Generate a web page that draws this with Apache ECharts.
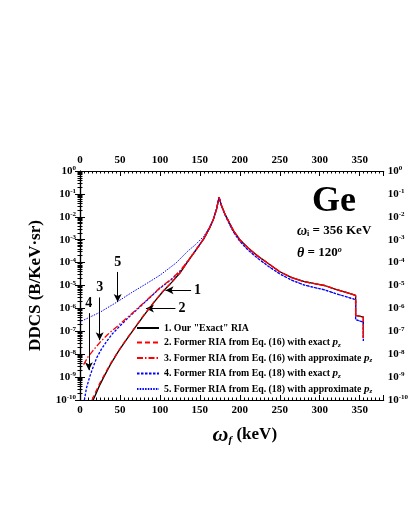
<!DOCTYPE html>
<html>
<head>
<meta charset="utf-8">
<script src="https://cdn.jsdelivr.net/npm/echarts@6/dist/echarts.min.js"></script>
<style>
  html, body { margin: 0; padding: 0; background: #fff; }
  #main { width: 411px; height: 532px; }
</style>
</head>
<body>
<div id="main"></div>
<script>
// series names
var names = [
  '1. Our "Exact" RIA',
  '2. Former RIA from Eq. (16) with exact p_z',
  '3. Former RIA from Eq. (16) with approximate p_z',
  '4. Former RIA from Eq. (18) with exact p_z',
  '5. Former RIA from Eq. (18) with approximate p_z'
]

// low-energy side (omega_f in keV, DDCS in b/keV/sr)
var x1 = [16.5, 20, 25, 30, 38, 48, 59, 70, 80, 92, 104, 115, 125, 135, 145, 155, 162, 167, 171]
var y1 = [1e-10, 1.9e-10, 4.7e-10, 1.05e-9, 3.5e-9, 1.32e-8, 4.8e-8, 1.66e-7, 5.0e-7, 1.74e-6, 5.6e-6, 1.41e-5, 3.5e-5, 1.12e-4, 3.5e-4, 1.12e-3, 3.2e-3, 7.9e-3, 0.0224]

var x2 = [15, 20, 25, 30, 38, 48, 59, 70, 80, 92, 104, 115, 125, 135, 145, 155, 162, 167, 171]
var y2 = [1e-10, 2.4e-10, 5.6e-10, 1.17e-9, 3.8e-9, 1.38e-8, 5.0e-8, 1.7e-7, 5.2e-7, 1.78e-6, 5.7e-6, 1.41e-5, 3.5e-5, 1.12e-4, 3.5e-4, 1.12e-3, 3.2e-3, 7.9e-3, 0.0224]

var x3 = [4.5, 10, 16, 25, 35, 45, 60, 80, 100, 115, 125, 135, 145, 155, 162, 167, 171]
var y3 = [3.5e-9, 7.6e-9, 1.41e-8, 3.3e-8, 7.4e-8, 1.48e-7, 4.2e-7, 1.78e-6, 7.9e-6, 2.0e-5, 4.3e-5, 1.2e-4, 3.6e-4, 1.12e-3, 3.2e-3, 7.9e-3, 0.0224]

var x4 = [5.5, 8, 12, 16, 21, 27, 33, 40, 49, 60, 80, 100, 115, 125, 135, 145, 155, 162, 167, 171]
var y4 = [1e-10, 3.2e-10, 1e-9, 2.5e-9, 7.1e-9, 1.7e-8, 3.5e-8, 7.4e-8, 1.58e-7, 3.8e-7, 1.7e-6, 7.6e-6, 1.9e-5, 4.1e-5, 1.15e-4, 3.5e-4, 1.12e-3, 3.2e-3, 7.9e-3, 0.0224]

var x5 = [2, 10, 25, 45, 65, 85, 100, 120, 135, 145, 155, 162, 167, 171]
var y5 = [2.8e-7, 3.8e-7, 6.8e-7, 1.78e-6, 5.0e-6, 1.32e-5, 2.8e-5, 9.5e-5, 3.2e-4, 6.3e-4, 1.41e-3, 3.5e-3, 8.3e-3, 0.0224]

// Compton peak and high-energy side (K and L edges)
var xRight = [174, 177, 181, 186, 192, 200, 210, 222, 236, 250, 265, 280, 295, 306, 320, 335, 344.9, 344.9, 354.6, 354.6]
var yRightRed = [0.072, 0.0316, 0.0141, 6.3e-3, 2.5e-3, 1.0e-3, 4.5e-4, 2.0e-4, 8.9e-5, 4.0e-5, 2.2e-5, 1.5e-5, 1.17e-5, 1.0e-5, 6.8e-6, 4.8e-6, 3.7e-6, 5.0e-7, 4.2e-7, 5.0e-8]
var yRightBlue = [0.072, 0.030, 0.0132, 5.6e-3, 2.2e-3, 8.5e-4, 3.6e-4, 1.58e-4, 6.8e-5, 3.2e-5, 1.7e-5, 1.07e-5, 7.9e-6, 6.5e-6, 4.4e-6, 3.1e-6, 2.4e-6, 3.2e-7, 2.5e-7, 3.8e-8]

// arrows: [label, x0, y0, x1, y1]
var arrows = [
  ['1', 139, 6.2e-6, 107, 6.2e-6],
  ['2', 119.4, 9.8e-7, 82.5, 9.8e-7],
  ['3', 24.6, 3.0e-6, 24.6, 4.1e-8],
  ['4', 11.1, 6.2e-7, 11.1, 2.0e-9],
  ['5', 47.1, 3.9e-5, 47.1, 1.9e-6]
]

var xTicks = [0, 50, 100, 150, 200, 250, 300, 350]

function zip (xs, ys) {
  var out = []
  for (var i = 0; i < xs.length; i++) out.push([xs[i], ys[i]])
  return out
}

var FONT = 'Liberation Serif'

var red = '#ff0000'
var blue = '#0000ff'

var chart = echarts.init(document.getElementById('main'))

// 10^n labels
function yLabel (v) {
  var e = Math.round(Math.log10(v))
  return '{n|10}{s|' + e + '}'
}
var yRich = {
  n: { fontFamily: FONT, fontWeight: 'bold', fontSize: 11, color: '#000' },
  s: { fontFamily: FONT, fontWeight: 'bold', fontSize: 7, color: '#000', verticalAlign: 'top', padding: [0, 0, 5, 0] }
}

var xBase = {
  type: 'value', min: 0, max: 380, interval: 50,
  axisLine: { lineStyle: { color: '#000', width: 1.2 } },
  axisTick: { inside: true, length: 5, lineStyle: { color: '#000' } },
  minorTick: { show: true, splitNumber: 10, length: 2.5, lineStyle: { color: '#000' } },
  splitLine: { show: false },
  axisLabel: {
    fontFamily: FONT, fontWeight: 'bold', fontSize: 11, color: '#000', margin: 5,
    formatter: function (v) { return xTicks.indexOf(v) >= 0 ? String(v) : '' }
  }
}
var yBase = {
  type: 'log', logBase: 10, min: 1e-10, max: 1, interval: 1,
  axisLine: { lineStyle: { color: '#000', width: 1.2 } },
  axisTick: { inside: true, length: 5, lineStyle: { color: '#000' } },
  minorTick: { show: true, splitNumber: 9, length: 2.5, lineStyle: { color: '#000' } },
  splitLine: { show: false },
  axisLabel: { formatter: yLabel, rich: yRich, margin: 4 }
}

function lineSeries (name, data, color, type, width, z) {
  return {
    name: name, type: 'line', data: data, showSymbol: false, symbol: 'none',
    lineStyle: { color: color, type: type, width: width }, itemStyle: { color: color },
    clip: true, z: z, animation: false
  }
}

var s1 = lineSeries(names[0], zip(x1, y1).concat(zip(xRight, yRightRed)), '#000', 'solid', 1.3, 2)
// numbered arrows
s1.markLine = {
  silent: true, animation: false, symbol: ['none', 'arrow'], symbolSize: [6, 8],
  lineStyle: { color: '#000', type: 'solid', width: 1 },
  label: { show: true, position: 'start', distance: 3, fontFamily: FONT, fontWeight: 'bold', fontSize: 14, color: '#000' },
  data: arrows.map(function (a) {
    return [{ coord: [a[1], a[2]], label: { formatter: a[0] } }, { coord: [a[3], a[4]] }]
  })
}

var series = [
  s1,
  lineSeries(names[1], zip(x2, y2).concat(zip(xRight, yRightRed)), red, [5, 3], 1.3, 5),
  lineSeries(names[2], zip(x3, y3).concat(zip(xRight, yRightRed)), red, [6, 2, 1.5, 2], 1.3, 4),
  lineSeries(names[3], zip(x4, y4).concat(zip(xRight, yRightBlue)), blue, [2.5, 1.5], 1.3, 3),
  lineSeries(names[4], zip(x5, y5).concat(zip(xRight, yRightBlue)), blue, [1.5, 1.2], 1, 3)
]

chart.setOption({
  animation: false,
  grid: { left: 80, top: 171, right: 23, bottom: 132 },
  legend: {
    orient: 'vertical', left: 131, top: 318, itemGap: 4, itemWidth: 22, itemHeight: 10,
    data: names,
    itemStyle: { opacity: 0 },
    formatter: function (n) { return n.replace('p_z', '{p|p}{z|z}') },
    textStyle: {
      fontFamily: FONT, fontWeight: 'bold', fontSize: 9.8, color: '#000',
      rich: {
        p: { fontFamily: FONT, fontWeight: 'bold', fontStyle: 'italic', fontSize: 11, color: '#000' },
        z: { fontFamily: FONT, fontWeight: 'bold', fontStyle: 'italic', fontSize: 7, color: '#000', verticalAlign: 'bottom', padding: [5, 0, 0, 0] }
      }
    }
  },
  xAxis: [
    Object.assign({}, xBase, {
      position: 'bottom',
      name: '{w|ω}{f|f}{k| (keV)}', nameLocation: 'middle', nameGap: 24,
      nameTextStyle: {
        padding: [0, 0, 0, 26],
        rich: {
          w: { fontFamily: FONT, fontStyle: 'italic', fontWeight: 'bold', fontSize: 22, color: '#000' },
          f: { fontFamily: FONT, fontStyle: 'italic', fontWeight: 'bold', fontSize: 11, color: '#000', verticalAlign: 'bottom', padding: [8, 0, 0, 0] },
          k: { fontFamily: FONT, fontWeight: 'bold', fontSize: 17, color: '#000' }
        }
      }
    }),
    Object.assign({}, xBase, { position: 'top' })
  ],
  yAxis: [
    Object.assign({}, yBase, {
      position: 'left',
      name: 'DDCS (B/KeV·sr)', nameLocation: 'middle', nameGap: 36,
      nameTextStyle: { fontFamily: FONT, fontWeight: 'bold', fontSize: 17, color: '#000' }
    }),
    Object.assign({}, yBase, { position: 'right' })
  ],
  graphic: [
    {
      type: 'text', left: 312, top: 184,
      style: { text: 'Ge', font: 'bold 36px "Liberation Serif"', fill: '#000' }
    },
    {
      type: 'text', left: 297, top: 224,
      style: {
        text: '{w|ω}{i|i}{t| = 356 KeV}',
        rich: {
          w: { fontFamily: FONT, fontStyle: 'italic', fontWeight: 'bold', fontSize: 14, fill: '#000' },
          i: { fontFamily: FONT, fontWeight: 'bold', fontSize: 8, fill: '#000', verticalAlign: 'bottom', padding: [6, 0, 0, 0] },
          t: { fontFamily: FONT, fontWeight: 'bold', fontSize: 13, fill: '#000' }
        }
      }
    },
    {
      type: 'text', left: 297, top: 246,
      style: {
        text: '{th|θ}{t| = 120}{o|o}',
        rich: {
          th: { fontFamily: FONT, fontStyle: 'italic', fontWeight: 'bold', fontSize: 14, fill: '#000' },
          t: { fontFamily: FONT, fontWeight: 'bold', fontSize: 13, fill: '#000' },
          o: { fontFamily: FONT, fontStyle: 'italic', fontWeight: 'bold', fontSize: 8, fill: '#000', verticalAlign: 'top', padding: [0, 0, 6, 0] }
        }
      }
    }
  ],
  series: series
})
</script>
</body>
</html>
